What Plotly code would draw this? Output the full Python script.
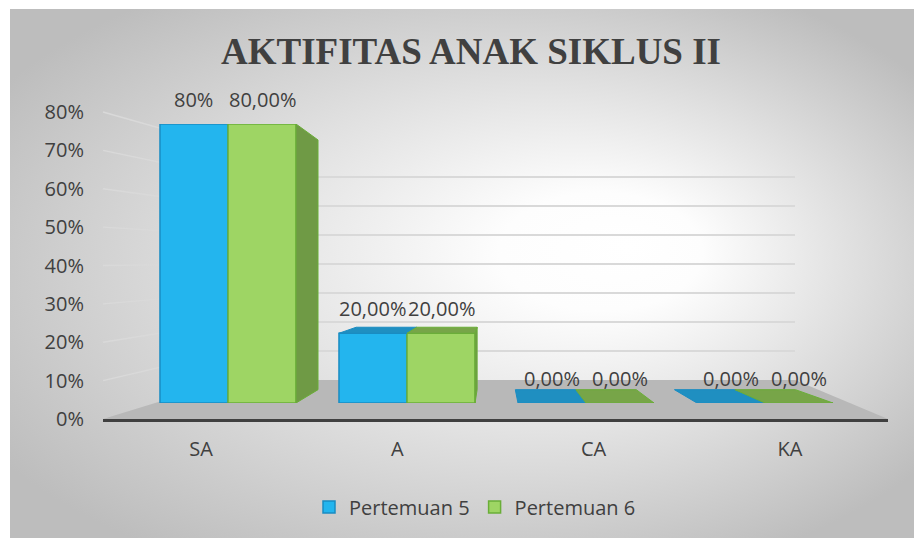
import base64
import plotly.graph_objects as go

# ---------------- data ----------------
categories = ["SA", "A", "CA", "KA"]
series_names = ["Pertemuan 5", "Pertemuan 6"]
pertemuan5 = [0.80, 0.20, 0.00, 0.00]
pertemuan6 = [0.80, 0.20, 0.00, 0.00]
labels5 = ["80%", "20,00%", "0,00%", "0,00%"]
labels6 = ["80,00%", "20,00%", "0,00%", "0,00%"]
tick_values = [0.0, 0.1, 0.2, 0.3, 0.4, 0.5, 0.6, 0.7, 0.8]
title_text = "AKTIFITAS ANAK SIKLUS II"

# ---------------- style ----------------
W, H = 922, 538
PAGE_OFF = 8  # default page margin of the html body
FONT = "Open Sans"
TXT = "#404040"
BLUE, BLUE_LINE, BLUE_TOP, BLUE_SIDE = "#23b5ee", "#1a8cc2", "#1f8fc1", "#1a7fb0"
GREEN, GREEN_LINE, GREEN_TOP, GREEN_SIDE = "#9ed564", "#6aae38", "#77a548", "#6f9a45"
FS = 20


def px_x(x):
    return (x - PAGE_OFF) / W


def px_y(y):
    return 1 - (y - PAGE_OFF) / H


# layout geometry in screen pixels
BX0, BX1 = 138.5, 854.5      # bar subplot x extent
BY0, BY1 = 403, 124          # bar subplot y extent (0 .. YMAX)
YMAX = 0.8
bars_x = [px_x(BX0), px_x(BX1)]
bars_y = [px_y(BY0), px_y(BY1)]
front_x = [px_x(103), px_x(888)]
front_y = [px_y(419), px_y(112)]
back_x = [px_x(230), px_x(795)]
back_y = [px_y(380), px_y(148)]
bargap = 0.24
cat_range = [-0.5, len(categories) - 0.5]
n_cat = len(categories)

# simple one-point perspective for the bar depth
VX, VY = 494.0, 276.0        # vanishing point (px)
FX, FY = 0.111, 0.105        # depth fraction
cat_px = (BX1 - BX0) / n_cat
val_px = (BY0 - BY1) / YMAX


def to_x3(px):
    return (px - BX0) / cat_px - 0.5


def to_y3(py):
    return (BY0 - py) / val_px


def back(px, py):
    return px + (VX - px) * FX, py + (VY - py) * FY


def poly(points):
    pts = [f"{to_x3(a)},{to_y3(b)}" for a, b in points]
    return "M " + " L ".join(pts) + " Z"


# background gradient (inline svg image)
svg = (
    "<svg xmlns='http://www.w3.org/2000/svg' width='912' height='529' preserveAspectRatio='none'>"
    "<defs><radialGradient id='g' cx='0.5' cy='0.5' r='0.62' fx='0.68' fy='0.45'>"
    "<stop offset='0' stop-color='#ffffff'/>"
    "<stop offset='0.18' stop-color='#fdfdfd'/>"
    "<stop offset='1' stop-color='#bdbdbd'/>"
    "</radialGradient></defs>"
    "<rect width='912' height='529' fill='url(#g)'/></svg>"
)
bg_src = "data:image/svg+xml;base64," + base64.b64encode(svg.encode()).decode()

fig = go.Figure()

# back wall grid subplot (x / y)
fig.add_trace(go.Scatter(x=categories, y=[0] * n_cat, mode="markers",
                         marker=dict(opacity=0), hoverinfo="skip", showlegend=False,
                         xaxis="x", yaxis="y"))
# front label subplot (x2 / y2)
fig.add_trace(go.Scatter(x=categories, y=[0] * n_cat, mode="markers",
                         marker=dict(opacity=0), hoverinfo="skip", showlegend=False,
                         xaxis="x2", yaxis="y2"))
# bars (x3 / y3)
fig.add_trace(go.Bar(x=categories, y=pertemuan5, name=series_names[0],
                     marker=dict(color=BLUE, line=dict(color=BLUE_LINE, width=1.5)),
                     xaxis="x3", yaxis="y3", hoverinfo="x+y"))
fig.add_trace(go.Bar(x=categories, y=pertemuan6, name=series_names[1],
                     marker=dict(color=GREEN, line=dict(color=GREEN_LINE, width=1.5)),
                     xaxis="x3", yaxis="y3", hoverinfo="x+y"))

# data labels
bw = (1 - bargap) / 2
annotations = []
for s, (vals, labs) in enumerate([(pertemuan5, labels5), (pertemuan6, labels6)]):
    for i, (v, t) in enumerate(zip(vals, labs)):
        annotations.append(dict(x=i + (s - 0.5) * bw, y=v, xref="x3", yref="y3", text=t,
                                showarrow=False, yshift=25,
                                font=dict(family=FONT, size=FS, color=TXT)))

# floor + perspective lines (derived from the axis domains)
shapes = [dict(type="path", xref="paper", yref="paper", layer="below",
               path=f"M {front_x[0]},{front_y[0]} L {front_x[1]},{front_y[0]} "
                    f"L {back_x[1]},{back_y[0]} L {back_x[0]},{back_y[0]} Z",
               fillcolor="#b8b8b8", line=dict(width=0))]
for v in tick_values[1:]:
    fy = front_y[0] + v / YMAX * (front_y[1] - front_y[0])
    by = back_y[0] + v / YMAX * (back_y[1] - back_y[0])
    shapes.append(dict(type="line", xref="paper", yref="paper", layer="below",
                       x0=front_x[0], y0=fy, x1=back_x[0], y1=by,
                       line=dict(color="#d9d9d9", width=1.5)))

# 3-D faces of the bars (top face / outer side face), from the bar values
series = [(pertemuan5, BLUE_TOP, BLUE_SIDE, BLUE_LINE),
          (pertemuan6, GREEN_TOP, GREEN_SIDE, GREEN_LINE)]
for s, (vals, ctop, cside, cline) in enumerate(series):
    for i, v in enumerate(vals):
        xl = BX0 + (i + 0.5 + (s - 1) * bw) * cat_px
        xr = xl + bw * cat_px
        yt = BY0 - v * val_px
        yb = BY0
        # top face visible when the top is below eye level
        if yt > VY:
            bl, br = back(xl, yt), back(xr, yt)
            shapes.append(dict(type="path", xref="x3", yref="y3", layer="above",
                               path=poly([(xl, yt), (xr, yt), br, bl]),
                               fillcolor=ctop, line=dict(color=cline, width=1)))
        # outer right side face (last series only) when left of vanishing point
        if s == len(series) - 1 and xr < VX and v > 0:
            bt, bb = back(xr, yt), back(xr, yb)
            shapes.append(dict(type="path", xref="x3", yref="y3", layer="above",
                               path=poly([(xr, yt), bt, bb, (xr, yb)]),
                               fillcolor=cside, line=dict(color=cline, width=1)))

fig.update_layout(
    width=W, height=H,
    margin=dict(l=0, r=0, t=0, b=0, autoexpand=False),
    paper_bgcolor="white", plot_bgcolor="rgba(0,0,0,0)",
    font=dict(family=FONT, color=TXT),
    barmode="group", bargap=bargap, bargroupgap=0,
    title=dict(text=f"<b>{title_text}</b>", x=px_x(471), xanchor="center",
               y=px_y(51), yanchor="middle",
               font=dict(family="Liberation Serif", size=37, color=TXT)),
    images=[dict(source=bg_src, xref="paper", yref="paper", x=px_x(10), y=px_y(9),
                 sizex=912 / W, sizey=529 / H, xanchor="left", yanchor="top",
                 sizing="stretch", layer="below")],
    xaxis=dict(domain=back_x, anchor="y", visible=False, type="category",
               categoryorder="array", categoryarray=categories, range=cat_range,
               automargin=False),
    yaxis=dict(domain=back_y, anchor="x", range=[0, YMAX], tickvals=tick_values[1:],
               showgrid=True, gridcolor="#d9d9d9", gridwidth=1.5,
               showticklabels=False, zeroline=False, showline=False, automargin=False),
    xaxis2=dict(domain=front_x, anchor="y2", type="category", categoryorder="array",
                categoryarray=categories, range=cat_range, showgrid=False, zeroline=False,
                showline=True, linecolor="#404040", linewidth=3, ticks="",
                ticklabelstandoff=10, automargin=False,
                tickfont=dict(family=FONT, size=FS, color=TXT)),
    yaxis2=dict(domain=front_y, anchor="x2", range=[0, YMAX], tickvals=tick_values,
                tickformat=".0%", showgrid=False, zeroline=False, showline=False,
                ticks="", ticklabelstandoff=18, automargin=False,
                tickfont=dict(family=FONT, size=FS, color=TXT)),
    xaxis3=dict(domain=bars_x, anchor="y3", type="category", categoryorder="array",
                categoryarray=categories, range=cat_range, visible=False, automargin=False),
    yaxis3=dict(domain=bars_y, anchor="x3", range=[0, YMAX], visible=False,
                automargin=False),
    showlegend=True,
    legend=dict(orientation="h", x=px_x(475), xanchor="center", y=px_y(507), yanchor="middle",
                font=dict(family=FONT, size=FS, color=TXT), bgcolor="rgba(0,0,0,0)",
                traceorder="normal", itemwidth=30),
    annotations=annotations,
    shapes=shapes,
)

fig.write_html("out.html")
